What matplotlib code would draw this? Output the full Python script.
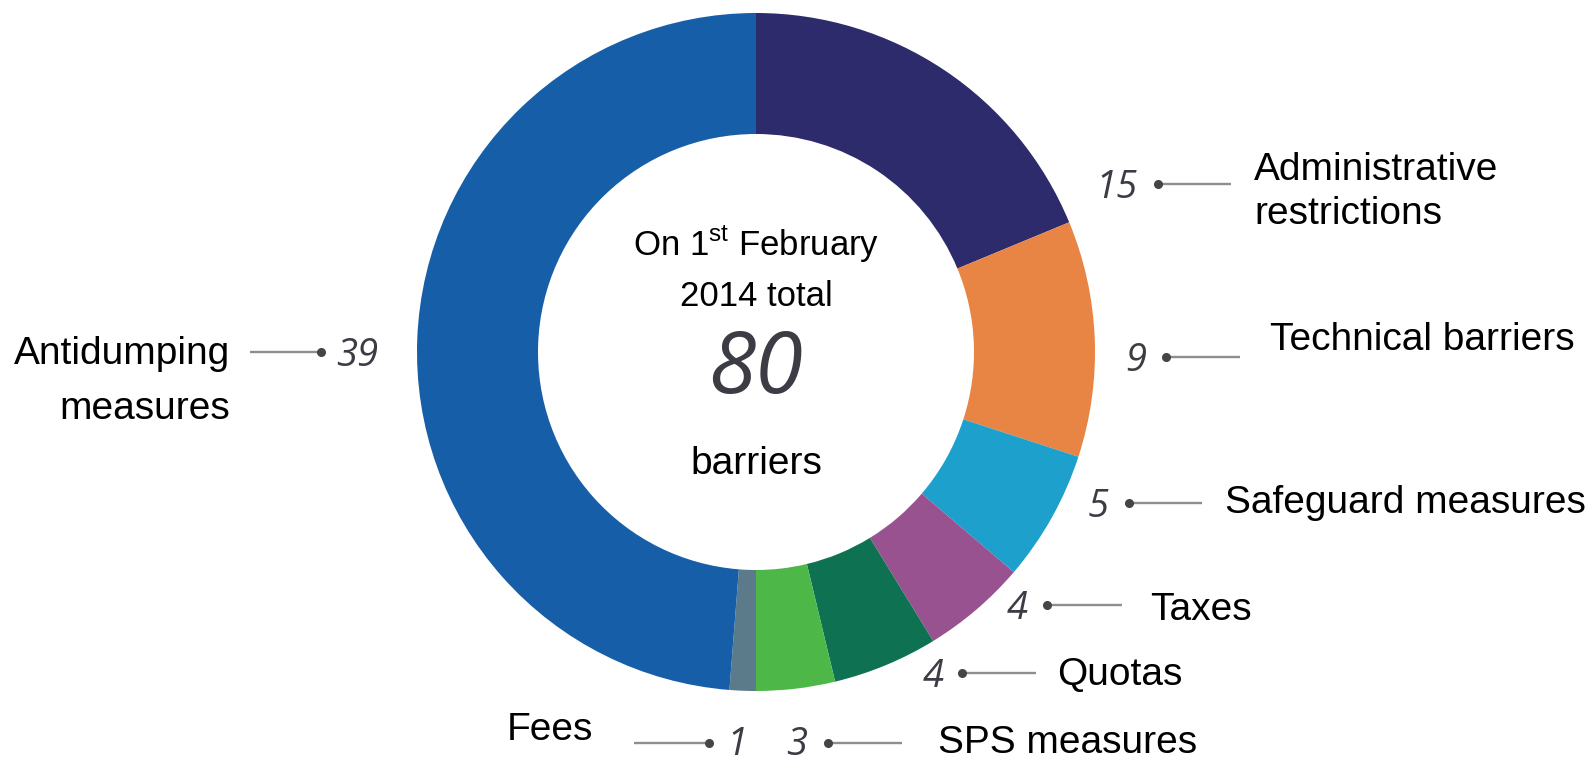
import matplotlib
matplotlib.use("Agg")
import matplotlib.pyplot as plt

plt.rcParams['font.family'] = ['Liberation Sans', 'DejaVu Sans']
plt.rcParams['mathtext.fontset'] = 'custom'
plt.rcParams['mathtext.rm'] = 'Liberation Sans'

# ---- data ----
categories = ['Administrative\nrestrictions', 'Technical barriers', 'Safeguard measures',
              'Taxes', 'Quotas', 'SPS measures', 'Fees', 'Antidumping\nmeasures']
values = [15, 9, 5, 4, 4, 3, 1, 39]
colors = ['#2D2B6B', '#E88444', '#1DA0CB', '#98528F', '#0E7151', '#4DB848', '#5B7A8A', '#175EA8']
total_lines = [r'On 1$^{\mathrm{st}}$ February', '2014 total']
total_value = sum(values)
total_unit = 'barriers'

# ---- layout (pixel coords, y measured from top) ----
W, H = 1592, 763
CX, CY, R_OUT, R_IN = 756, 352, 339, 218

layout = [
    dict(num=(1117, 184), dot=(1158, 184), end=1231, text=(1254, 180), ha='left', gap=44),
    dict(num=(1136, 357), dot=(1166, 357), end=1240, text=(1270, 350), ha='left', gap=44),
    dict(num=(1098, 503), dot=(1129, 503), end=1202, text=(1225, 513), ha='left', gap=44),
    dict(num=(1017, 605), dot=(1047, 605), end=1122, text=(1150, 620), ha='left', gap=44),
    dict(num=(933, 673), dot=(962, 673), end=1036, text=(1057, 685), ha='left', gap=44),
    dict(num=(797, 741), dot=(828, 743), end=902, text=(938, 753), ha='left', gap=44),
    dict(num=(737, 741), dot=(709, 743), end=634, text=(507, 740), ha='left', gap=44),
    dict(num=(357, 352), dot=(321, 352), end=250, text=(230, 364), ha='right', gap=55),
]

fig = plt.figure(figsize=(W / 100, H / 100), dpi=100)
ax = fig.add_axes([0, 0, 1, 1])

def fy(y):
    return H - y

ax.pie(values, colors=colors, startangle=90, counterclock=False,
       center=(CX, fy(CY)), radius=R_OUT,
       wedgeprops=dict(width=R_OUT - R_IN, linewidth=0, edgecolor='none', antialiased=True))
ax.set_xlim(0, W)
ax.set_ylim(0, H)
ax.set_aspect('equal')
ax.axis('off')

NUM_FONT = ['Open Sans', 'DejaVu Sans']
NUM_SIZE = 27.5
NUM_COLOR = '#3c3c44'
LABEL_SIZE = 28

for cat, val, lay in zip(categories, values, layout):
    nx, ny = lay['num']
    ax.text(nx, fy(ny + 0.36 * NUM_SIZE * 100 / 72), str(val), fontsize=NUM_SIZE,
            family=NUM_FONT, style='italic', color=NUM_COLOR, ha='center', va='baseline')
    dx, dy = lay['dot']
    ax.plot([dx, lay['end']], [fy(dy), fy(dy)], color='#8e8e8e', lw=1.7,
            solid_capstyle='butt', zorder=3)
    ax.plot([dx], [fy(dy)], marker='o', markersize=5.5, color='#454545', zorder=4)
    tx, ty = lay['text']
    for i, line in enumerate(cat.split('\n')):
        ax.text(tx, fy(ty + i * lay['gap']), line, fontsize=LABEL_SIZE, color='black',
                ha=lay['ha'], va='baseline')

# centre text
ax.text(CX, fy(256), total_lines[0], fontsize=25, ha='center', va='baseline', color='black')
ax.text(CX, fy(306), total_lines[1], fontsize=25, ha='center', va='baseline', color='black')
ax.text(CX, fy(362 + 0.36 * 62 * 100 / 72), str(total_value), fontsize=62, family=NUM_FONT,
        style='italic', color=NUM_COLOR, ha='center', va='baseline')
ax.text(CX, fy(474), total_unit, fontsize=28, ha='center', va='baseline', color='black')

fig.savefig('out.png', dpi=100, facecolor='white')
